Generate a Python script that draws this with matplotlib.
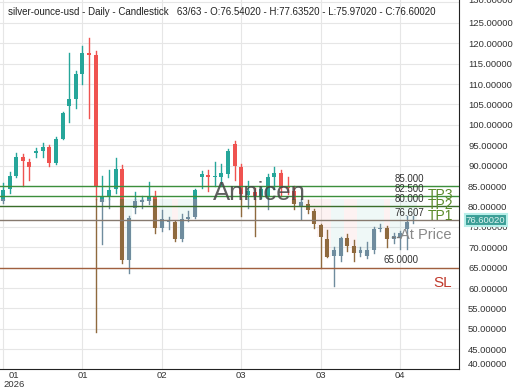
import matplotlib.pyplot as plt
from matplotlib.patches import Rectangle
import matplotlib.transforms as mtransforms
import numpy as np

plt.rcParams['font.family'] = ['Liberation Sans', 'DejaVu Sans']

# daily OHLC, 63 candles
opens = [81.4, 84.2, 87.5, 92.2, 90.9, 93.1, 93.5, 94.6, 90.6, 96.6,
         104.7, 106.4, 112.4, 117.5, 117.2, 81.2, 82.6, 84.2, 89.1, 66.8,
         79.7, 81.2, 81.4, 82.4, 74.8, 76.1, 76.1, 72.0, 76.9, 77.5,
         87.1, 87.7, 87.1, 87.3, 87.9, 95.4, 89.7, 82.8, 83.6, 82.6,
         82.6, 87.1, 88.1, 85.0, 83.8, 80.1, 80.6, 78.8, 75.4, 72.1,
         67.9, 67.9, 72.2, 70.3, 68.5, 67.9, 69.3, 74.5, 74.8, 72.0,
         72.5, 74.5, 76.54]
highs = [85.8, 88.5, 93.1, 92.8, 91.6, 94.3, 95.5, 95.1, 97.0, 103.2,
         117.5, 113.1, 119.4, 121.4, 118.0, 87.5, 88.9, 91.8, 90.1, 77.7,
         83.6, 82.6, 86.1, 83.8, 79.1, 77.5, 76.5, 78.1, 78.9, 84.2,
         88.7, 88.9, 90.8, 90.4, 94.0, 96.1, 90.4, 86.3, 84.6, 84.8,
         87.9, 89.7, 88.9, 87.1, 85.0, 81.8, 81.6, 79.3, 75.8, 74.2,
         70.1, 72.4, 73.3, 71.7, 70.1, 71.4, 75.0, 75.7, 75.3, 73.5,
         74.0, 77.7, 77.635]
lows = [80.8, 83.4, 87.3, 85.0, 86.4, 92.2, 92.2, 90.0, 90.3, 96.5,
        100.8, 104.1, 110.1, 101.6, 49.1, 70.8, 79.6, 83.4, 66.2, 63.8,
        78.5, 79.7, 80.7, 73.6, 74.0, 74.4, 71.6, 71.6, 76.5, 77.1,
        84.6, 83.8, 85.0, 85.0, 87.1, 86.4, 77.7, 79.7, 72.8, 82.0,
        79.3, 84.2, 82.6, 83.1, 79.3, 76.9, 78.5, 74.8, 65.0, 67.5,
        60.5, 66.7, 69.1, 66.7, 67.9, 67.3, 68.7, 74.0, 70.0, 71.0,
        69.6, 69.6, 75.97]
closes = [84.1, 87.5, 92.0, 91.2, 89.7, 93.5, 94.6, 90.6, 96.6, 102.9,
          106.3, 112.4, 117.5, 117.2, 84.9, 82.6, 84.0, 89.1, 66.8, 77.1,
          81.4, 81.5, 82.4, 74.8, 76.9, 76.3, 72.0, 76.9, 77.5, 84.0,
          87.9, 87.3, 87.3, 88.1, 93.6, 90.0, 83.0, 83.7, 82.6, 84.2,
          87.1, 88.1, 84.6, 84.6, 80.6, 81.1, 79.1, 75.7, 72.4, 67.6,
          69.3, 72.2, 70.3, 68.5, 69.3, 69.3, 74.5, 74.8, 72.0, 72.8,
          73.5, 76.1, 76.6002]

tick_pos = [0, 12, 24, 36, 48, 60]
tick_labels = ['01\n2026', '01', '02', '03', '03', '04']

levels = [85.0, 82.5, 80.0, 76.607, 65.0]
level_text = ['85.000', '82.500', '80.000', '76.607', '65.0000']
level_colors = ['#3c8f3c', '#3c8f3c', '#3a6e2a', '#86796e', '#a0603f']
tp_names = ['TP3', 'TP2', 'TP1']
tp_y = [82.7, 80.3, 77.7]

cutoff = 81.9
up, down = '#26a69a', '#ef5350'
up_dim, down_dim = '#6f8c9e', '#8f6a3e'

fig = plt.figure(figsize=(5.2, 3.9), dpi=100)
ax = fig.add_axes([0, 1 - 369 / 390, 459 / 520, 369 / 390])
ax.set_xlim(-0.453, 68.88)
ax.set_ylim(40.15, 130.6)

w = 0.6
for i in range(len(opens)):
    o, h, l, c = opens[i], highs[i], lows[i], closes[i]
    bull = c >= o
    col = up if bull else down
    dim = up_dim if bull else down_dim
    lo, hi = min(o, c), max(o, c)
    # faint band behind the part below the cutoff
    if lo < cutoff:
        ax.add_patch(Rectangle((i - 0.5, lo), 1.0, cutoff - lo,
                               color=col, alpha=0.07, lw=0, zorder=1))
    # wick
    if h > cutoff:
        ax.plot([i, i], [max(l, cutoff), h], color=col, lw=1, zorder=3)
    if l < cutoff:
        ax.plot([i, i], [l, min(h, cutoff)], color=dim, lw=1, zorder=3)
    # body
    if hi > cutoff:
        b0 = max(lo, cutoff)
        ax.add_patch(Rectangle((i - w / 2, b0), w, max(hi - b0, 0.25),
                               color=col, lw=0, zorder=4))
    if lo < cutoff:
        b1 = min(hi, cutoff)
        ax.add_patch(Rectangle((i - w / 2, lo), w, max(b1 - lo, 0.25),
                               color=dim, lw=0, zorder=4))

for lv, txt, lc in zip(levels, level_text, level_colors):
    ax.axhline(lv, color=lc, lw=1, zorder=5)
    xr = 62.8 if txt == '65.0000' else 63.6
    ax.text(xr, lv + 0.6, txt, ha='right', va='bottom', fontsize=7,
            color='#333333', zorder=6)

for name, yy in zip(tp_names, tp_y):
    ax.text(64.2, yy, name, ha='left', va='center', fontsize=10,
            color='#5a8a2a', zorder=6)

ax.plot([58.8, 59.1], [72.6, 72.6], color='#777777', lw=1, zorder=6)
ax.plot([59.5, 59.8], [72.6, 72.6], color='#777777', lw=1, zorder=6)
ax.text(59.9, 73.0, 'At Price', ha='left', va='center', fontsize=10.5,
        color='#888888', zorder=6)
ax.text(65.0, 61.3, 'SL', ha='left', va='center', fontsize=11,
        color='#c0392b', zorder=6)

ax.text(31.7, 83.3, 'Annicen', ha='left', va='center', fontsize=18.5,
        color='#444444', alpha=0.85, zorder=7)

ax.text(8 / 459, 1 - 12 / 369,
        'silver-ounce-usd - Daily - Candlestick   63/63 - O:76.54020 - '
        'H:77.63520 - L:75.97020 - C:76.60020',
        transform=ax.transAxes, ha='left', va='center', fontsize=7,
        color='#222222', zorder=8)

# axes styling
ax.yaxis.tick_right()
yt = np.arange(45, 131, 5)
ax.set_yticks(yt)
ax.set_yticklabels(['%.5f' % v for v in yt])
ax.tick_params(axis='y', length=0, pad=6.5, labelsize=6.8, colors='#333333')
top_lab = ax.get_yticklabels()[-1]
top_lab.set_transform(top_lab.get_transform() +
                      mtransforms.ScaledTranslation(0, 2 / 72, fig.dpi_scale_trans))
ax.set_xticks(tick_pos)
ax.set_xticklabels(tick_labels, linespacing=0.95)
ax.tick_params(axis='x', length=0, pad=1.5, labelsize=6.8, colors='#333333')
first = ax.get_xticklabels()[0]
first.set_ha('left')
first.set_multialignment('center')
ax.grid(color='#e6e6e6', lw=0.8, zorder=0)
ax.set_axisbelow(True)
for s in ['left', 'top']:
    ax.spines[s].set_visible(False)
ax.spines['right'].set_color('#222222')
ax.spines['bottom'].set_color('#222222')

ax.annotate('40.00000', xy=(1, 40.15), xycoords=ax.get_yaxis_transform(),
            xytext=(6.5, 3), textcoords='offset points', ha='left',
            va='center', fontsize=6.8, color='#333333', annotation_clip=False)

ax.annotate('76.60020', xy=(1, 76.6), xycoords=ax.get_yaxis_transform(),
            xytext=(5, 0), textcoords='offset points', ha='left',
            va='center', fontsize=6.8, color='#dff5f2',
            bbox=dict(boxstyle='square,pad=0.15', fc='#3a9e96', ec='#b8efe9',
                      lw=1.5),
            annotation_clip=False, zorder=9)

fig.savefig('out.png', dpi=100)
